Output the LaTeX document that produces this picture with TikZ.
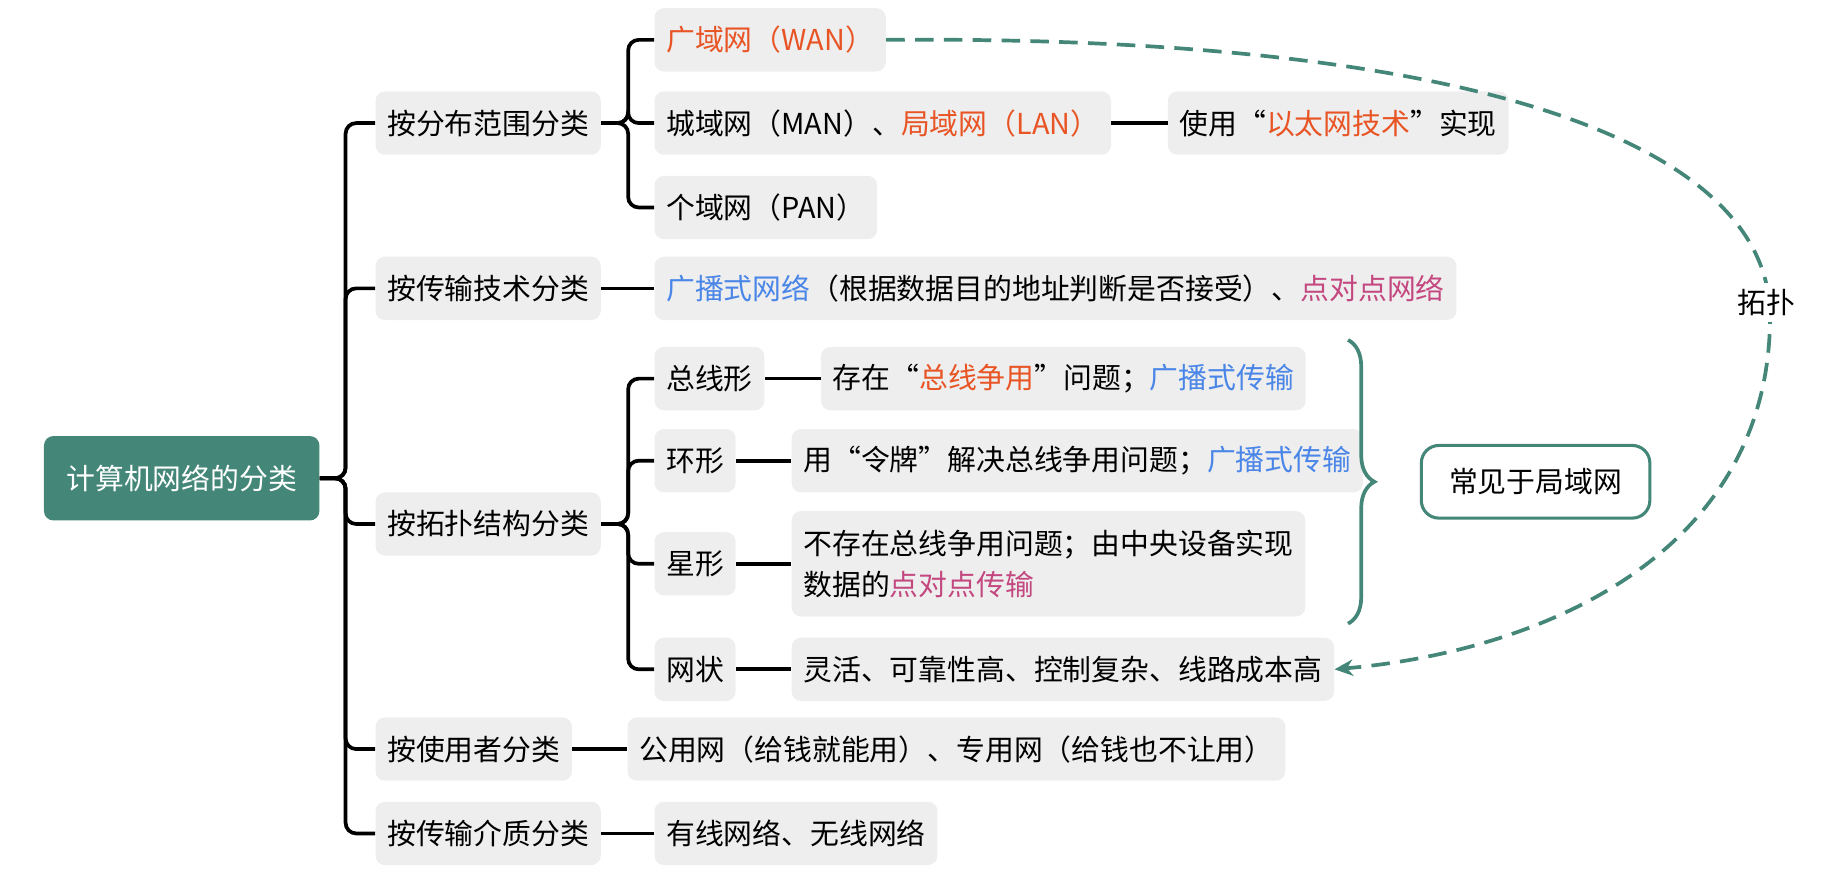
\documentclass[tikz,border=0pt]{standalone}
\usepackage{fontspec}
\setmainfont{Noto Sans CJK SC}
\usetikzlibrary{positioning,arrows.meta,decorations.pathreplacing}
\definecolor{teal}{RGB}{68,135,120}
\definecolor{boxgray}{RGB}{238,238,238}
\definecolor{orng}{RGB}{232,84,36}
\definecolor{blu}{RGB}{74,134,232}
\definecolor{pnk}{RGB}{196,72,128}
\tikzset{
  item/.style={fill=boxgray, rounded corners=0.16cm, minimum height=1.08cm, inner xsep=0.2cm, anchor=west},
  conn/.style={line width=1.8pt, rounded corners=0.18cm},
}
\begin{document}
\begin{tikzpicture}[x=0.02cm,y=-0.02cm,font=\fontsize{14}{20}\selectfont]
\useasboundingbox (0,0) rectangle (1568,754);

\node [fill=teal, text=white, rounded corners=0.16cm, minimum width=4.7cm, minimum height=1.44cm] (root) at (155,408) {计算机网络的分类};

% first level
\node [item] (range) at (320,105) {按分布范围分类};
\node [item] (tech) at (320,246) {按传输技术分类};
\node [item] (topo) at (320,447) {按拓扑结构分类};
\node [item] (user) at (320,639) {按使用者分类};
\node [item] (media) at (320,711) {按传输介质分类};

% second level
\node [item] (wan) at (558,34) {\color{orng}广域网（WAN）};
\node [item] (man) at (558,105) {城域网（MAN）、\textcolor{orng}{局域网（LAN）}};
\node [item] (pan) at (558,177) {个域网（PAN）};
\node [item] (eth) at (996,105) {使用“\textcolor{orng}{以太网技术}”实现};
\node [item] (bcast) at (558,246) {\textcolor{blu}{广播式网络}（根据数据目的地址判断是否接受）、\textcolor{pnk}{点对点网络}};
\node [item] (bus) at (558,323) {总线形};
\node [item] (busd) at (700,323) {存在“\textcolor{orng}{总线争用}”问题；\textcolor{blu}{广播式传输}};
\node [item] (ring) at (558,393) {环形};
\node [item] (ringd) at (675,393) {用“令牌”解决总线争用问题；\textcolor{blu}{广播式传输}};
\node [item] (star) at (558,481) {星形};
\node [item, minimum height=1.8cm, align=left] (stard) at (675,481) {不存在总线争用问题；由中央设备实现\\数据的\textcolor{pnk}{点对点传输}};
\node [item] (mesh) at (558,571) {网状};
\node [item] (meshd) at (675,571) {灵活、可靠性高、控制复杂、线路成本高};
\node [item] (pub) at (535,639) {公用网（给钱就能用）、专用网（给钱也不让用）};
\node [item] (wire) at (558,711) {有线网络、无线网络};

\node [draw=teal, line width=1.5pt, rounded corners=0.3cm, minimum width=3.9cm, minimum height=1.24cm] (lan) at (1310,411) {常见于局域网};

% connectors
\foreach \n in {range,tech,topo,user,media}
  \draw [conn] (root.east) -- ++(22,0) |- (\n.west);
\foreach \n in {wan,man,pan}
  \draw [conn] (range.east) -- ++(23,0) |- (\n.west);
\foreach \n in {bus,ring,star,mesh}
  \draw [conn] (topo.east) -- ++(23,0) |- (\n.west);
\draw [conn] (tech.east) -- (bcast.west);
\draw [conn] (man.east) -- (eth.west);
\draw [conn] (bus.east) -- (busd.west);
\draw [conn] (ring.east) -- (ringd.west);
\draw [conn] (star.east) -- (stard.west);
\draw [conn] (mesh.east) -- (meshd.west);
\draw [conn] (user.east) -- (pub.west);
\draw [conn] (media.east) -- (wire.west);

% brace
\draw [teal, line width=1.8pt, decorate, decoration={brace, amplitude=0.45cm}] (1150,290) -- (1150,532);

% dashed link
\draw [teal, line width=1.8pt, dash pattern=on 9pt off 5pt, -{Stealth[length=9pt,width=8pt]}]
  (wan.east) .. controls (1250,30) and (1510,120) .. (1510,270)
  .. controls (1510,470) and (1320,555) .. (meshd.east);
\node [fill=white, inner sep=3pt] (tp) at (1507,258) {拓扑};
\end{tikzpicture}
\end{document}
